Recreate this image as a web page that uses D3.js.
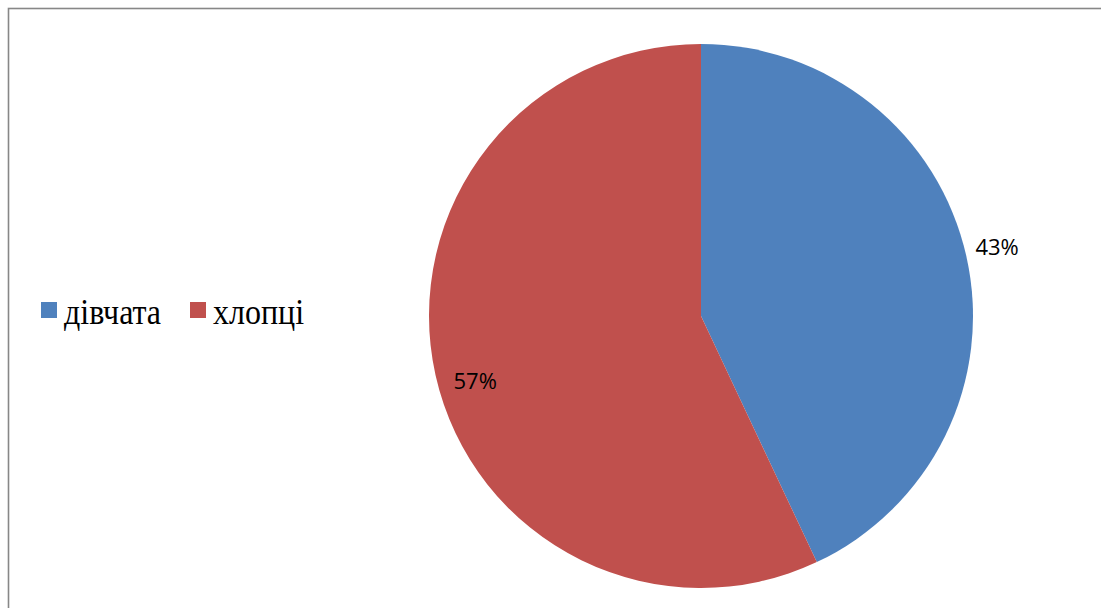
<!DOCTYPE html>
<html>
<head>
<meta charset="utf-8">
<script src="https://cdn.jsdelivr.net/npm/d3@7/dist/d3.min.js"></script>
<style>
  html, body { margin: 0; padding: 0; background: #ffffff; }
  svg { display: block; }
</style>
</head>
<body>
<script>
// Share of respondents by gender
const categories = ["дівчата", "хлопці"];
const shares = [43, 57];
const sliceColors = ["#4F81BD", "#C0504D"];

const W = 1101, H = 608;
const svg = d3.select("body").append("svg")
  .attr("width", W).attr("height", H);

// chart frame
svg.append("rect")
  .attr("x", 8.5).attr("y", 8.5)
  .attr("width", W + 20).attr("height", H + 20)
  .attr("fill", "#ffffff")
  .attr("stroke", "#878787")
  .attr("stroke-width", 1.6);

const cx = 701, cy = 316, radius = 272;

const pie = d3.pie().sort(null).value(d => d.value);
const arcs = pie(categories.map((c, i) => ({ name: c, value: shares[i], color: sliceColors[i] })));
const arc = d3.arc().innerRadius(0).outerRadius(radius);

const g = svg.append("g").attr("transform", `translate(${cx},${cy})`);

g.selectAll("path.slice")
  .data(arcs)
  .enter().append("path")
  .attr("class", "slice")
  .attr("d", arc)
  .attr("fill", d => d.data.color);

// data labels: first outside the slice, second inside near the edge
const labelPlacement = [
  { r: 304, da: -0.008 },
  { r: 235, da: -0.06 }
];
g.selectAll("text.pct")
  .data(arcs)
  .enter().append("text")
  .attr("class", "pct")
  .each(function (d, i) {
    const p = labelPlacement[i];
    const a = (d.startAngle + d.endAngle) / 2 + p.da;
    d3.select(this)
      .attr("x", p.r * Math.sin(a))
      .attr("y", -p.r * Math.cos(a));
  })
  .attr("text-anchor", "middle")
  .attr("dy", "0.36em")
  .attr("font-family", "'Open Sans', sans-serif")
  .attr("font-size", 22)
  .attr("fill", "#000000")
  .text(d => d.data.value + "%");

// legend
const legendX = [41, 190];
const legend = svg.append("g");
const items = legend.selectAll("g.item")
  .data(arcs)
  .enter().append("g")
  .attr("class", "item")
  .attr("transform", (d, i) => `translate(${legendX[i]},302)`);

items.append("rect")
  .attr("width", 16).attr("height", 16)
  .attr("fill", d => d.data.color);

items.append("text")
  .attr("transform", "translate(23,21.5) scale(1,1.14)")
  .attr("font-family", "'Liberation Serif', 'Times New Roman', serif")
  .attr("font-size", 32)
  .attr("fill", "#000000")
  .text(d => d.data.name);
</script>
</body>
</html>
